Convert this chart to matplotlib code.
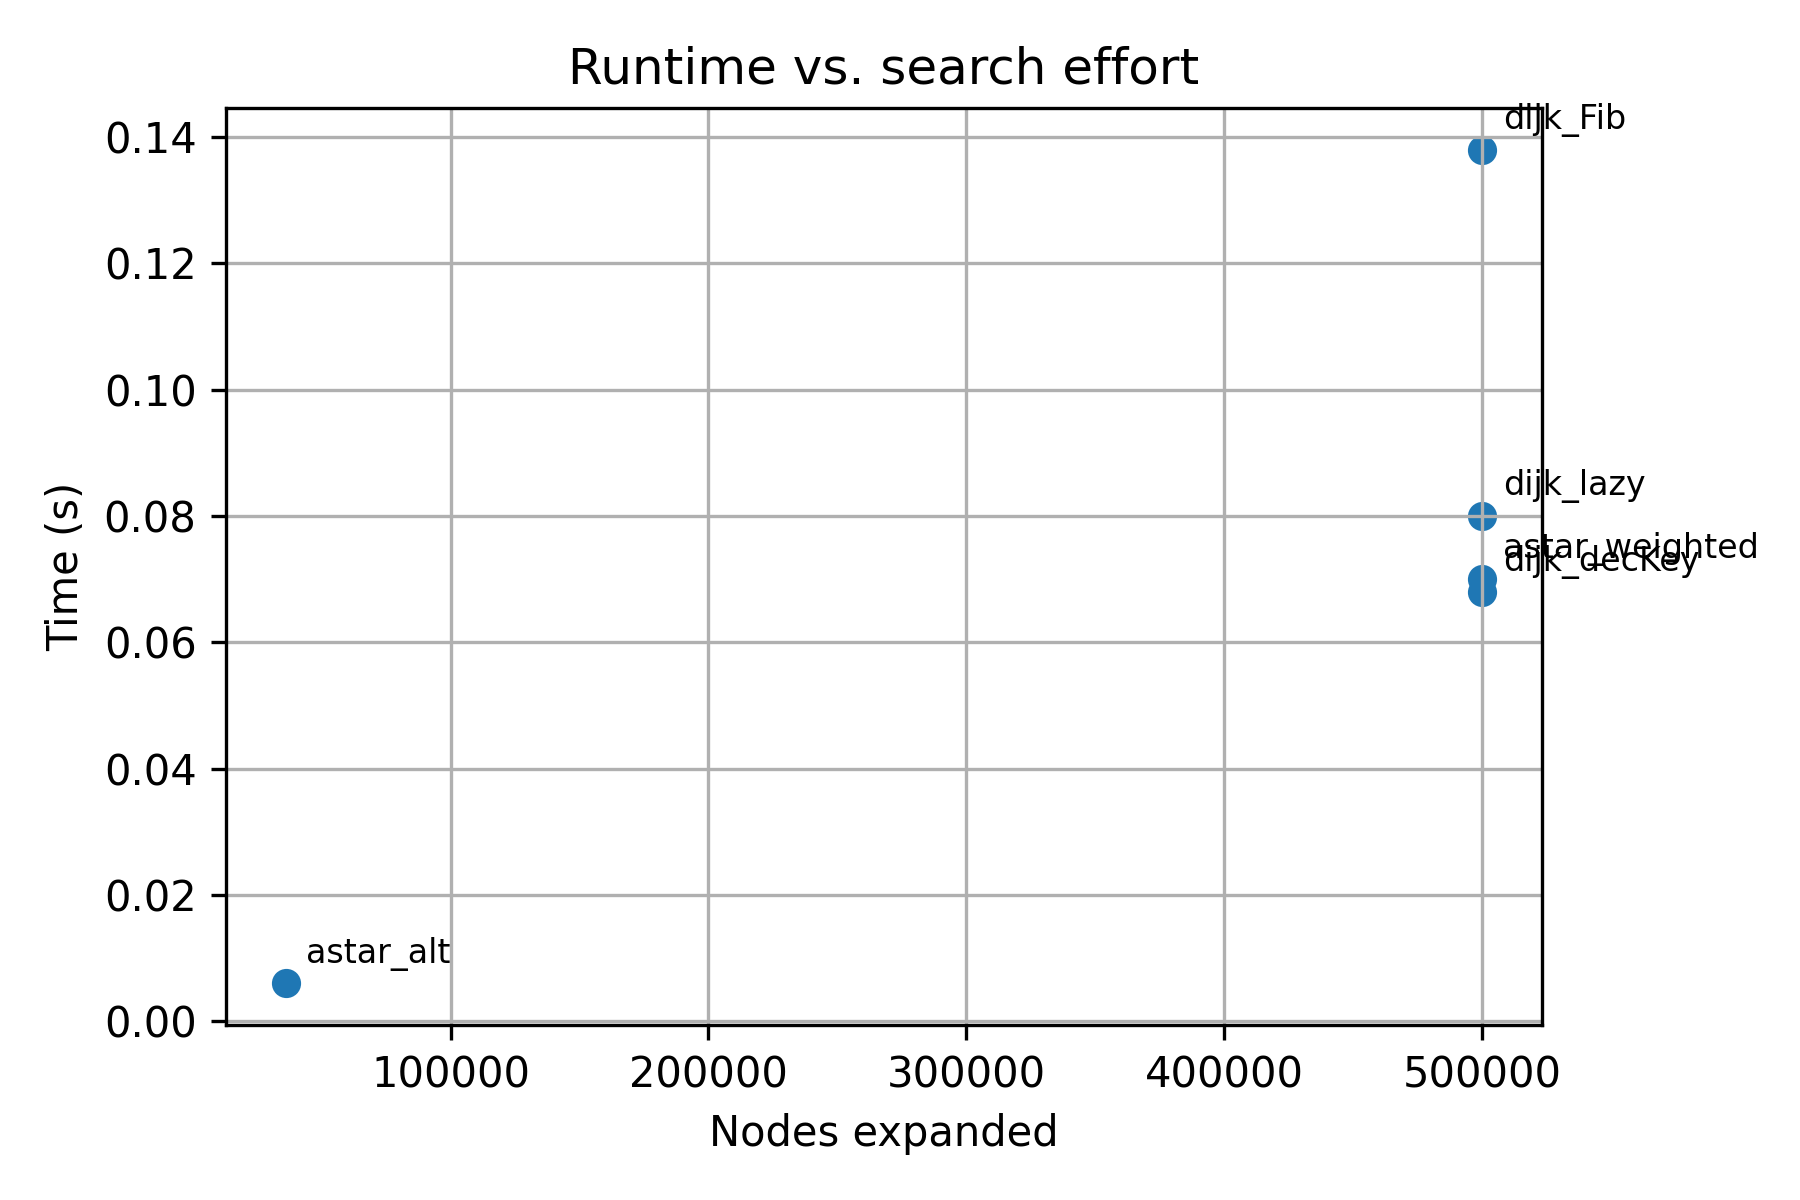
import matplotlib
matplotlib.use('Agg')
import matplotlib.pyplot as plt

# benchmark results
names = ['astar_alt', 'dijk_Fib', 'dijk_lazy', 'astar_weighted', 'dijk_decKey']
nodes = [36000, 500000, 500000, 500000, 500000]
times = [0.006, 0.138, 0.080, 0.070, 0.068]

fig, ax = plt.subplots(figsize=(6, 4), dpi=300)
ax.scatter(nodes, times)
for n, x, y in zip(names, nodes, times):
    ax.annotate(n, (x, y), textcoords='offset points', xytext=(5, 5),
                fontsize=8)
ax.set_xlabel('Nodes expanded')
ax.set_ylabel('Time (s)')
ax.set_title('Runtime vs. search effort')
ax.grid(True)
plt.tight_layout()
plt.savefig('out.png', dpi=300)
